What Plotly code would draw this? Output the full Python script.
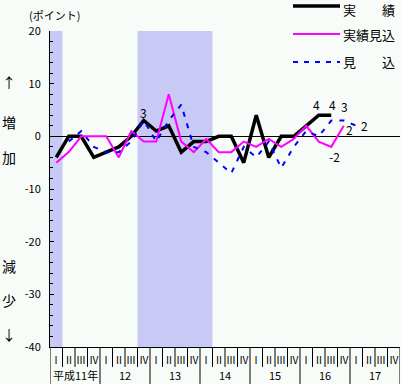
import plotly.graph_objects as go

# ---- data ----
quarter_labels = ["Ⅰ", "Ⅱ", "Ⅲ", "Ⅳ"] * 7
year_labels = ["平成11年", "12", "13", "14", "15", "16", "17"]

jisseki = [-4, 0, 0, -4, -3, -2, 0, 3, 1, 2, -3, -1, -1, 0, 0, -5, 4, -4, 0, 0, 2, 4, 4]
jisseki_mikomi = [-5, -3, 0, 0, 0, -4, 1, -1, -1, 8, -1, -3, -0.5, -3, -3, -1, -2, -0.5, -2, -0.5, 2, -1, -2, 2]
mikomi = [None, -1, 1, -2, -3, -3, -1, 3, -1, 3, 6, -2, -3, -5, -7, -2, -4, -1, -6, -2, 1, 0, 3, 3, 2]

y_tickvals = [-40, -30, -20, -10, 0, 10, 20]
y_ticktext = ["-40", "-30", "-20", "-10", "0", "10", "20"]

shaded_ranges = [(0, 0), (7, 12)]  # quarter index ranges (inclusive)

series_names = ["実　　績", "実績見込", "見　　込"]

FONT = "Noto Sans CJK JP"
BG = "#F8FCF8"

fig = go.Figure()

def xs(vals):
    return list(range(len(vals)))

fig.add_trace(go.Scatter(x=xs(jisseki), y=jisseki, mode="lines",
                         line=dict(color="#000000", width=3.5), name=series_names[0]))
fig.add_trace(go.Scatter(x=xs(jisseki_mikomi), y=jisseki_mikomi, mode="lines",
                         line=dict(color="#FF00FF", width=2), name=series_names[1]))
fig.add_trace(go.Scatter(x=xs(mikomi), y=mikomi, mode="lines", connectgaps=False,
                         line=dict(color="#0000FF", width=2, dash="5px,7px"), name=series_names[2]))

shapes = []
for a, b in shaded_ranges:
    shapes.append(dict(type="rect", xref="x", yref="paper", x0=a - 0.5, x1=b + 0.5, y0=0, y1=1,
                       fillcolor="#C8CAF5", line=dict(width=0), layer="below"))

# bottom table separators
n_q = len(quarter_labels)
for k in range(n_q + 1):
    is_year = (k % 4 == 0)
    shapes.append(dict(type="line", xref="x", yref="paper", x0=k - 0.5, x1=k - 0.5,
                       y0=0, y1=-0.117 if is_year else -0.063,
                       line=dict(color="#000000", width=1)))

annotations = []

def ann(**kw):
    d = dict(showarrow=False, xanchor="center", yanchor="middle")
    d.update(kw)
    annotations.append(d)

for i, q in enumerate(quarter_labels):
    ann(x=i, y=-0.038, xref="x", yref="paper", text=q,
        font=dict(family=FONT, size=10, color="#000000"))
for j, ylab in enumerate(year_labels):
    ann(x=4 * j + 1.5, y=-0.089, xref="x", yref="paper", text=ylab,
        font=dict(family=FONT, size=11, color="#000000"))

# value labels
def vlabel(idx, vals, dx=0, dy=0, xanchor="center"):
    v = vals[idx]
    ann(x=idx, y=v, xref="x", yref="y", text=f"{v:g}", xshift=dx, yshift=dy, xanchor=xanchor,
        font=dict(family=FONT, size=12, color="#000000"))

vlabel(7, jisseki, dx=0, dy=8)
vlabel(21, jisseki, dx=-2, dy=11)
vlabel(22, jisseki, dx=1, dy=11)
vlabel(23, mikomi, dx=1, dy=14)
vlabel(24, mikomi, dx=3, dy=0, xanchor="left")
vlabel(23, jisseki_mikomi, dx=0, dy=-4, xanchor="left")
vlabel(22, jisseki_mikomi, dx=3, dy=-10)

# side texts
for ch, py in [("↑", 82), ("増", 122), ("加", 157), ("減", 266), ("少", 300), ("↓", 334)]:
    ann(x=(9 - 50) / 350, y=(347 - py) / 316, xref="paper", yref="paper", text=ch,
        font=dict(family=FONT, size=14, color="#000000"))

ann(x=(27 - 50) / 350, y=(347 - 15) / 316, xref="paper", yref="paper", text="(ポイント)",
    xanchor="left", font=dict(family=FONT, size=11, color="#000000"))

# legend drawn manually
legend_items = [
    (series_names[0], "#000000", 3.5, "solid", 6, 9),
    (series_names[1], "#FF00FF", 2, "solid", 34, 34),
    (series_names[2], "#0000FF", 2, "5px,6px", 62, 62),
]
for name, col, w, dash, py, ty in legend_items:
    yp = (347 - py) / 316
    shapes.append(dict(type="line", xref="paper", yref="paper",
                       x0=(293 - 50) / 350, x1=(340 - 50) / 350, y0=yp, y1=yp,
                       line=dict(color=col, width=w, dash=dash)))
    ann(x=(341 - 50) / 350, y=(347 - ty) / 316, xref="paper", yref="paper", text=name,
        xanchor="left", font=dict(family=FONT, size=13, color="#000000"))

fig.update_layout(
    width=401, height=384,
    margin=dict(l=50, r=1, t=31, b=37),
    paper_bgcolor=BG, plot_bgcolor=BG,
    showlegend=False,
    shapes=shapes, annotations=annotations,
    xaxis=dict(range=[-0.5, n_q - 0.5], showticklabels=False, showgrid=False, zeroline=False,
               showline=True, linecolor="#000000", linewidth=1, ticks=""),
    yaxis=dict(range=[-40, 20], tickvals=y_tickvals, ticktext=y_ticktext,
               showgrid=False, zeroline=True, zerolinecolor="#000000", zerolinewidth=1,
               showline=True, linecolor="#000000", linewidth=1,
               ticks="inside", ticklen=4, tickcolor="#000000",
               minor=dict(dtick=2, ticks="inside", ticklen=3, tickcolor="#000000"),
               ticklabelstandoff=6, automargin=False,
               tickfont=dict(family=FONT, size=11, color="#000000")),
)

fig.write_html("out.html", config={"displayModeBar": False},
               post_script="document.body.style.margin='0';document.body.style.overflow='hidden';")
